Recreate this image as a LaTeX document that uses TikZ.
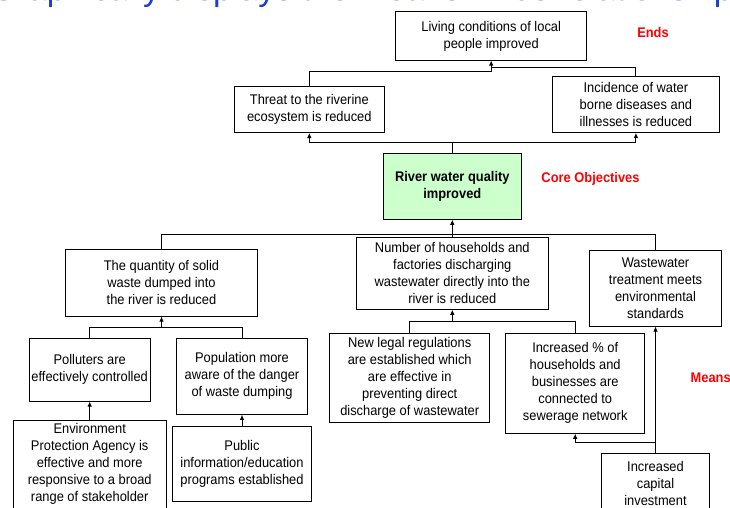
\documentclass[tikz,border=0pt]{standalone}
\usepackage{fontspec}
\setmainfont{Liberation Sans}
\newfontfamily\narrowfont[FakeStretch=0.92]{Liberation Sans}
\usetikzlibrary{arrows.meta}
\definecolor{titleblue}{RGB}{30,60,210}
\definecolor{corefill}{RGB}{204,255,204}
\definecolor{labred}{RGB}{255,0,0}
\tikzset{
  box/.style={draw=black, line width=0.9pt, align=center, inner sep=2pt, font=\narrowfont\fontsize{14}{17}\selectfont},
  textonly/.style={align=center, inner sep=0pt, font=\narrowfont\fontsize{14}{17}\selectfont},
  link/.style={draw=black, line width=0.9pt},
  arr/.style={link, -{Latex[length=5pt,width=4.5pt]}},
  lab/.style={text=labred, font=\narrowfont\bfseries\fontsize{14}{16}\selectfont, inner sep=0pt},
}
\begin{document}
\begin{tikzpicture}[x=1pt,y=-1pt]
\useasboundingbox (0,0) rectangle (730,507);
\clip (0,0) rectangle (730,507);
\node[anchor=base west, inner sep=0pt, text=titleblue, font=\fontsize{34}{40}\selectfont] (title) at (-10,0.5) {Graphically displays the Means-Ends relationship};

\node[box, minimum width=191, minimum height=48.3] (top) at (491.2,35.9) {Living conditions of local\\people improved};
\node[box, minimum width=150, minimum height=46.5] (threat) at (309.3,109.3) {Threat to the riverine\\ecosystem is reduced};
\node[box, minimum width=167, minimum height=55.8] (incid) at (635.9,104.6) {Incidence of water\\borne diseases and\\illnesses is reduced};
\node[box, fill=corefill, font=\narrowfont\bfseries\fontsize{14}{17}\selectfont, minimum width=138.2, minimum height=66] (core) at (452.3,186.3) {River water quality\\improved};
\node[box, minimum width=191.8, minimum height=66.7] (solid) at (161.5,282.7) {The quantity of solid\\waste dumped into\\the river is reduced};
\node[box, minimum width=191.8, minimum height=72] (house) at (452.3,273.3) {Number of households and\\factories discharging\\wastewater directly into the\\river is reduced};
\node[box, minimum width=131.3, minimum height=75.3] (wwt) at (655.5,288.4) {Wastewater\\treatment meets\\environmental\\standards};
\node[box, minimum width=121.5, minimum height=62.7] (poll) at (89.7,369.7) {Polluters are\\effectively controlled};
\node[box, minimum width=130.9, minimum height=76] (popu) at (242,376.3) {Population more\\aware of the danger\\of waste dumping};
\node[box, minimum width=153.1, minimum height=120] (env) at (89.7,480) {};
\node[textonly] (envtext) at (89.7,463.5) {Environment\\Protection Agency is\\effective and more\\responsive to a broad\\range of stakeholder};
\node[box, minimum width=139.6, minimum height=75.7] (public) at (242,463.9) {Public\\information/education\\programs established};
\node[box, minimum width=160.2, minimum height=89] (legal) at (409.7,377.8) {New legal regulations\\are established which\\are effective in\\preventing direct\\discharge of wastewater};
\node[box, minimum width=139.2, minimum height=100] (incr) at (575.2,383.3) {Increased \% of\\households and\\businesses are\\connected to\\sewerage network};
\node[box, minimum width=108.5, minimum height=80] (capital) at (655.5,493.3) {};
\node[textonly] (captext) at (655.5,483) {Increased\\capital\\investment};

\node[lab] (ends) at (653,32.7) {Ends};
\node[lab] (coreobj) at (590.5,179.3) {Core Objectives};
\node[lab, anchor=west] (means) at (690.4,377.3) {Means};

\coordinate (jTopL) at (491.2,71.7);
\coordinate (jTopR) at (491.2,67.7);
\draw[link] (threat.north) |- (jTopL);
\draw[link] (incid.north) |- (jTopR);
\draw[arr] (jTopL) -- (top.south);
\coordinate (jCore) at (452.3,142.3);
\draw[link] (core.north) -- (jCore);
\draw[arr] (jCore) -| (threat.south);
\draw[arr] (jCore) -| (incid.south);
\coordinate (jL2) at (452.3,234.3);
\draw[link] (solid.north) |- (jL2);
\draw[link] (wwt.north) |- (jL2);
\draw[arr] (house.north) -- (core.south);
\coordinate (jSolid) at (161.5,327.3);
\draw[link] (poll.north) |- (jSolid);
\draw[link] (popu.north) |- (jSolid);
\draw[arr] (jSolid) -- (solid.south);
\draw[arr] (env.north) -- (poll.south);
\draw[arr] (public.north) -- (popu.south);
\coordinate (jHouse) at (452.3,321.7);
\draw[link] (legal.north) |- (jHouse);
\draw[link] (incr.north) |- (jHouse);
\draw[arr] (jHouse) -- (house.south);
\coordinate (jCap) at (655.5,442.7);
\draw[arr] (capital.north) -- (wwt.south);
\draw[arr] (jCap) -| (incr.south);
\end{tikzpicture}
\end{document}
